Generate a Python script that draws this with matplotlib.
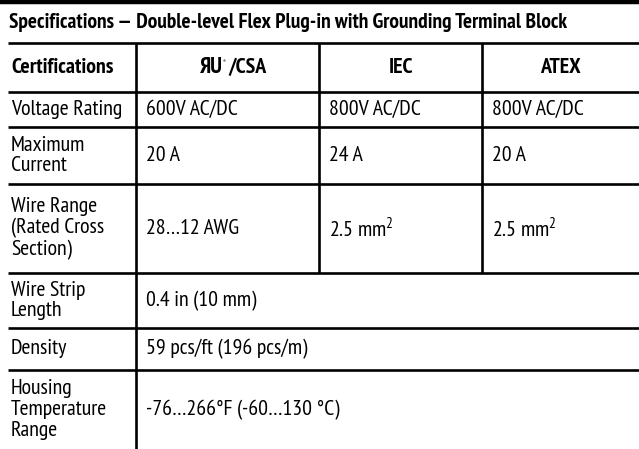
import matplotlib
matplotlib.use("Agg")
from matplotlib import pyplot as plt
from matplotlib import font_manager

# table content
title = "Specifications — Double-level Flex Plug-in with Grounding Terminal Block"
headers = ["Certifications", "/CSA", "IEC", "ATEX"]
row_labels = ["Voltage Rating", "Maximum\nCurrent", "Wire Range\n(Rated Cross\nSection)",
              "Wire Strip\nLength", "Density", "Housing\nTemperature\nRange"]
ul_values = ["600V AC/DC", "20 A", "28…12 AWG"]
iec_values = ["800V AC/DC", "24 A", "2.5 mm$^2$"]
atex_values = ["800V AC/DC", "20 A", "2.5 mm$^2$"]
shared_values = ["0.4 in (10 mm)", "59 pcs/ft (196 pcs/m)", "-76…266°F (-60…130 °C)"]

# narrow font close to the original condensed face
installed = {f.name for f in font_manager.fontManager.ttflist}
candidates = ["PT Sans Narrow", "Fira Sans Condensed", "Archivo Narrow",
              "Asap Condensed", "Barlow Condensed", "Roboto Condensed"]
FONT = next((c for c in candidates if c in installed), "DejaVu Sans")
plt.rcParams["font.family"] = [FONT, "DejaVu Sans"]
plt.rcParams["mathtext.fontset"] = "custom"
plt.rcParams["mathtext.rm"] = FONT

W, H = 639, 449
fig = plt.figure(figsize=(W / 100, H / 100), dpi=100)
ax = fig.add_axes([0, 0, 1, 1])
ax.set_xlim(0, W)
ax.set_ylim(H, 0)
ax.axis("off")
renderer = fig.canvas.get_renderer()


def fit_size(s, target, weight="normal", base=12.0):
    t = ax.text(0, 0, s, fontsize=base, fontweight=weight)
    w = t.get_window_extent(renderer).width
    t.remove()
    return base * target / w


# layout (pixels)
col_x = [8, 136, 319, 482, W]
row_y = [43, 92, 127, 184, 273, 328, 370, H]
lw = 1.9
fs = fit_size("Voltage Rating", 112)
fs_title = fit_size(title, 556, "bold")

# rules
ax.plot([0, W], [2, 2], color="black", lw=3.2, solid_capstyle="butt")
for y in row_y[:-1]:
    ax.plot([col_x[0], W], [y, y], color="black", lw=lw, solid_capstyle="butt")
ax.plot([col_x[1], col_x[1]], [row_y[0], H], color="black", lw=lw, solid_capstyle="butt")
for x in col_x[2:4]:
    ax.plot([x, x], [row_y[0], row_y[4]], color="black", lw=lw, solid_capstyle="butt")

ax.text(9, 22, title, fontsize=fs_title, fontweight="bold", va="center", ha="left")

# header row
hy = (row_y[0] + row_y[1]) / 2
ax.text(col_x[0] + 3, hy, headers[0], fontsize=fs, fontweight="bold", va="center")
cx = (col_x[1] + col_x[2]) / 2
ax.text(cx - 5, hy, "ЯU", fontsize=fs * 1.05, fontweight="heavy", fontstyle="italic",
        va="center", ha="right")
ax.text(cx - 5, hy - 6, "®", fontsize=4, va="center", ha="left")
ax.text(cx + 1, hy, headers[1], fontsize=fs, fontweight="bold", va="center", ha="left")
for i in (2, 3):
    ax.text((col_x[i] + col_x[i + 1]) / 2, hy, headers[i], fontsize=fs,
            fontweight="bold", va="center", ha="center")

# body rows
for r, label in enumerate(row_labels):
    y = (row_y[r + 1] + row_y[r + 2]) / 2
    ax.text(col_x[0] + 3, y, label, fontsize=fs, va="center", ha="left", linespacing=1.1)
    if r < 3:
        vals = [ul_values[r], iec_values[r], atex_values[r]]
        for c, v in enumerate(vals):
            ax.text(col_x[c + 1] + 10, y, v, fontsize=fs, va="center", ha="left")
    else:
        ax.text(col_x[1] + 10, y, shared_values[r - 3], fontsize=fs, va="center", ha="left")

fig.savefig("out.png", dpi=100, facecolor="white")
